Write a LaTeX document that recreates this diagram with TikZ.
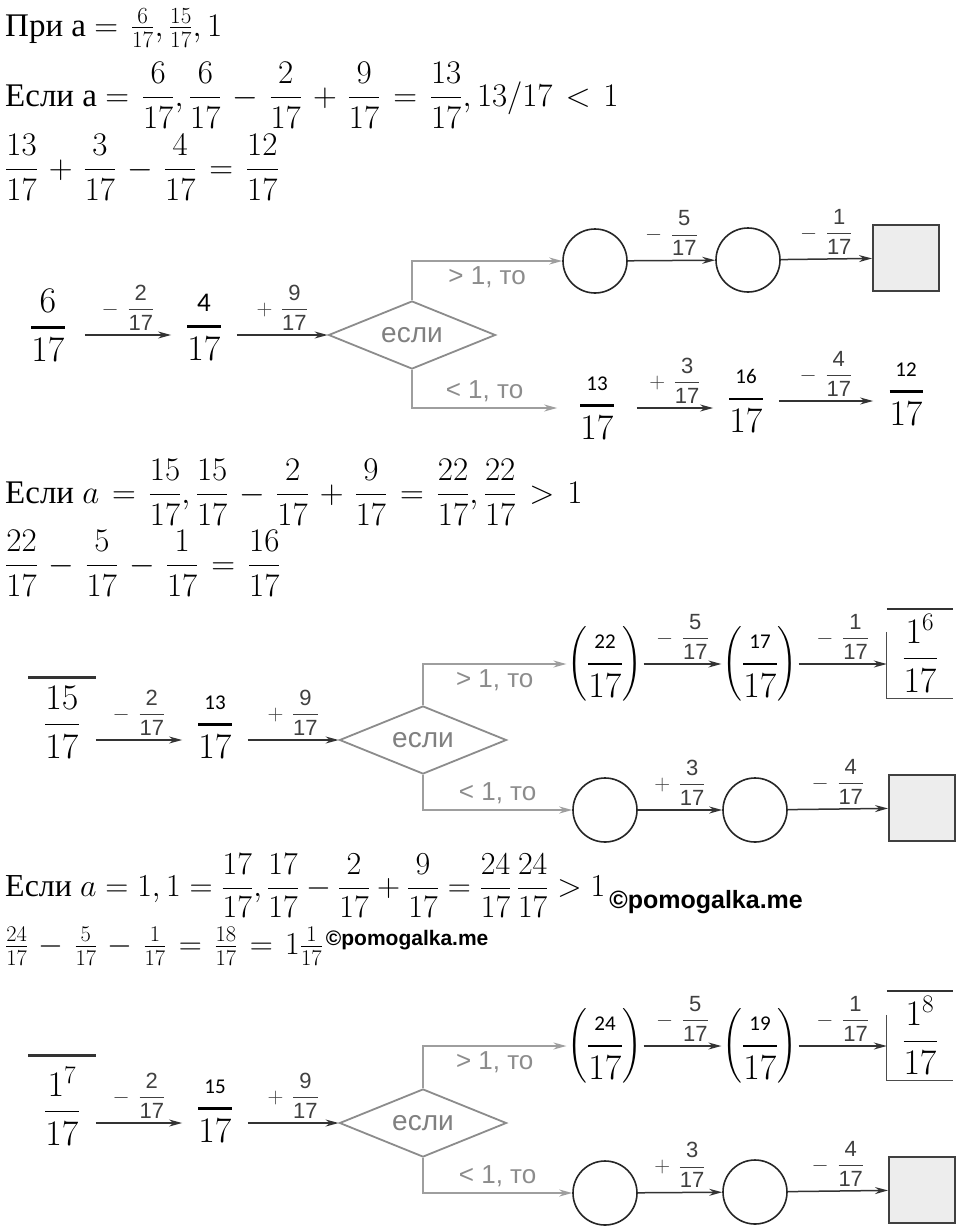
\RequirePackage{fix-cm}
\documentclass[tikz,border=0pt]{standalone}
\usepackage{amsmath}
\usepackage{fontspec}
\setmainfont{Liberation Serif}
\setsansfont{Liberation Sans}
\newfontfamily\handfont{Carlito}
\usetikzlibrary{shapes.geometric, arrows.meta}

\newcommand{\eqspacing}{\thickmuskip 7mu\relax\medmuskip 6mu\relax}

\tikzstyle{arrow} = [line width=1.5pt, draw=black!80, -{Stealth[length=13pt, width=7pt]}]
\tikzstyle{branch} = [line width=1.5pt, draw=black!38, -{Stealth[length=13pt, width=7pt]}]
\tikzstyle{decision} = [diamond, draw=black!45, line width=1.8pt, shape aspect=2.5, minimum width=167pt, minimum height=68pt, inner sep=0pt, text=black!50, font=\sffamily\fontsize{28}{28}\selectfont]
\tikzstyle{bubble} = [circle, draw=black!85, line width=1.6pt, minimum size=64pt, inner sep=0pt]
\tikzstyle{blank} = [rectangle, draw=black!75, fill=black!7, line width=2pt, minimum size=66pt, inner sep=0pt]
\tikzstyle{value} = [inner xsep=15pt, inner ysep=0pt, font=\fontsize{36}{40}\selectfont]
\tikzstyle{oplabel} = [anchor=south, inner sep=4pt, text=black!75, font=\fontsize{22}{24}\selectfont]
\tikzstyle{cond} = [text=black!45, font=\sffamily\fontsize{26}{28}\selectfont, inner sep=5pt]
\tikzstyle{eqline} = [anchor=base west, inner sep=0pt, font=\fontsize{33}{38}\selectfont\eqspacing]
\tikzstyle{eqtight} = [anchor=base west, inner sep=0pt, font=\fontsize{32}{38}\selectfont]
\tikzstyle{topbar} = [line width=2.6pt, draw=black!80]
\tikzstyle{frameline} = [line width=1.2pt, draw=black!70]

\newcommand{\ans}[3][21]{\genfrac{}{}{2.6pt}{0}{\mbox{\handfont\fontsize{#1}{#1}\selectfont #2}}{#3}}
\newcommand{\op}[2]{\mkern7mu\genfrac{}{}{0.9pt}{0}{\mathsf{#1}}{\mathsf{#2}}}
\newcommand{\wmark}[1]{{\sffamily\bfseries\fontsize{#1}{#1}\selectfont ©pomogalka.me}}

\begin{document}
\begin{tikzpicture}[x=1pt, y=-1pt]
    \useasboundingbox (0,0) rectangle (960,1229);
    \fill[white] (0,0) rectangle (960,1229);

    % case a = 6/17
    \node (given) [eqline] at (5,36) {При а $=\tfrac{6}{17},\tfrac{15}{17},1$};
    \node (caseA) [eqline] at (5,106) {Если а $=\dfrac{6}{17},\dfrac{6}{17}-\dfrac{2}{17}+\dfrac{9}{17}=\dfrac{13}{17},13/17<1$};
    \node (sumA) [eqline] at (5,178) {$\dfrac{13}{17}+\dfrac{3}{17}-\dfrac{4}{17}=\dfrac{12}{17}$};

    \node (ifA) [decision] at (412,335) {если};
    \node (startA) [value, inner xsep=19pt] at (48,325) {$\genfrac{}{}{2.6pt}{0}{6}{17}$};
    \node (midA) [value] at (204,327) {$\ans[27]{4}{17}$};
    \node (upA1) [bubble] at (595,261) {};
    \node (upA2) [bubble] at (748,260) {};
    \node (resA) [blank] at (906,258) {};
    \node (lowA1) [value, inner xsep=22pt] at (597,408) {$\ans{13}{17}$};
    \node (lowA2) [value] at (746,401) {$\ans{16}{17}$};
    \node (lowA3) [value] at (906,394) {$\ans{12}{17}$};

    \draw [arrow] (startA.east |- ifA.west) -- node[oplabel] {$-\op{2}{17}$} (midA.west |- ifA.west);
    \draw [arrow] (midA.east |- ifA.west) -- node[oplabel] {$+\op{9}{17}$} (ifA.west);
    \draw [branch] (ifA.north) |- node[cond, pos=0.75, below] {> 1, то} (upA1.west);
    \draw [arrow] (upA1) -- node[oplabel] {$-\op{5}{17}$} (upA2);
    \draw [arrow] (upA2) -- node[oplabel] {$-\op{1}{17}$} (resA);
    \draw [branch] (ifA.south) |- node[cond, pos=0.75, above] {< 1, то} (lowA1.west);
    \draw [arrow] (lowA1.east) -- node[oplabel] {$+\op{3}{17}$} (lowA1.east -| lowA2.west);
    \draw [arrow] (lowA2.east) -- node[oplabel] {$-\op{4}{17}$} (lowA2.east -| lowA3.west);

    % case a = 15/17
    \node (caseB) [eqline] at (5,503) {Если $a=\dfrac{15}{17},\dfrac{15}{17}-\dfrac{2}{17}+\dfrac{9}{17}=\dfrac{22}{17},\dfrac{22}{17}>1$};
    \node (sumB) [eqline] at (5,574) {$\dfrac{22}{17}-\dfrac{5}{17}-\dfrac{1}{17}=\dfrac{16}{17}$};

    \node (ifB) [decision] at (423,740) {если};
    \node (startB) [value, inner xsep=16pt] at (62,722) {$\dfrac{15}{17}$};
    \node (midB) [value] at (215,727) {$\ans{13}{17}$};
    \node (upB1) [value, inner xsep=1pt] at (605,664) {$\left(\ans{22}{17}\right)$};
    \node (upB2) [value, inner xsep=1pt] at (760,664) {$\left(\ans{17}{17}\right)$};
    \node (resB) [value, inner sep=0pt, minimum width=66pt, minimum height=89pt] at (920,653.5) {$\dfrac{1^{6}}{17}$};
    \node (lowB1) [bubble] at (605,810) {};
    \node (lowB2) [bubble] at (755,810) {};
    \node (blankB) [blank] at (922,808) {};

    \draw [topbar] ([yshift=8pt]startB.north west) -- ([yshift=8pt]startB.north east);
    \draw [frameline] ([yshift=-23pt]resB.north west) |- (resB.south east);
    \draw [topbar] (resB.north west) -- (resB.north east);
    \draw [arrow] (startB.east |- ifB.west) -- node[oplabel] {$-\op{2}{17}$} (midB.west |- ifB.west);
    \draw [arrow] (midB.east |- ifB.west) -- node[oplabel] {$+\op{9}{17}$} (ifB.west);
    \draw [branch] (ifB.north) |- node[cond, pos=0.75, below] {> 1, то} (upB1.west);
    \draw [arrow] (upB1) -- node[oplabel] {$-\op{5}{17}$} (upB2);
    \draw [arrow] (upB2.east) -- node[oplabel] {$-\op{1}{17}$} (upB2.east -| resB.west);
    \draw [branch] (ifB.south) |- node[cond, pos=0.75, above] {< 1, то} (lowB1.west);
    \draw [arrow] (lowB1) -- node[oplabel] {$+\op{3}{17}$} (lowB2);
    \draw [arrow] (lowB2) -- node[oplabel] {$-\op{4}{17}$} (blankB);

    % case a = 1
    \node (caseC) [eqtight] at (5,896) {Если $a=1,1=\dfrac{17}{17},\dfrac{17}{17}-\dfrac{2}{17}+\dfrac{9}{17}=\dfrac{24}{17}\,\dfrac{24}{17}>1$\hspace{4pt}\raisebox{-12pt}{\wmark{25}}};
    \node (sumC) [eqline, font=\fontsize{32}{38}\selectfont\eqspacing] at (5,954) {$\tfrac{24}{17}-\tfrac{5}{17}-\tfrac{1}{17}=\tfrac{18}{17}=1\tfrac{1}{17}$\hspace{3pt}\raisebox{9pt}{\wmark{21}}};

    \node (ifC) [decision] at (423,1123) {если};
    \node (startC) [value, inner xsep=16pt] at (62,1106) {$\dfrac{1^{7}}{17}$};
    \node (midC) [value] at (215,1111) {$\ans{15}{17}$};
    \node (upC1) [value, inner xsep=1pt] at (605,1046) {$\left(\ans{24}{17}\right)$};
    \node (upC2) [value, inner xsep=1pt] at (760,1046) {$\left(\ans{19}{17}\right)$};
    \node (resC) [value, inner sep=0pt, minimum width=66pt, minimum height=89pt] at (920,1035.5) {$\dfrac{1^{8}}{17}$};
    \node (lowC1) [bubble] at (605,1193) {};
    \node (lowC2) [bubble] at (755,1192) {};
    \node (blankC) [blank] at (922,1190) {};

    \draw [topbar] ([yshift=11pt]startC.north west) -- ([yshift=11pt]startC.north east);
    \draw [frameline] ([yshift=-24pt]resC.north west) |- (resC.south east);
    \draw [topbar] (resC.north west) -- (resC.north east);
    \draw [arrow] (startC.east |- ifC.west) -- node[oplabel] {$-\op{2}{17}$} (midC.west |- ifC.west);
    \draw [arrow] (midC.east |- ifC.west) -- node[oplabel] {$+\op{9}{17}$} (ifC.west);
    \draw [branch] (ifC.north) |- node[cond, pos=0.75, below] {> 1, то} (upC1.west);
    \draw [arrow] (upC1) -- node[oplabel] {$-\op{5}{17}$} (upC2);
    \draw [arrow] (upC2.east) -- node[oplabel] {$-\op{1}{17}$} (upC2.east -| resC.west);
    \draw [branch] (ifC.south) |- node[cond, pos=0.75, above] {< 1, то} (lowC1.west);
    \draw [arrow] (lowC1) -- node[oplabel] {$+\op{3}{17}$} (lowC2);
    \draw [arrow] (lowC2) -- node[oplabel] {$-\op{4}{17}$} (blankC);

\end{tikzpicture}
\end{document}
